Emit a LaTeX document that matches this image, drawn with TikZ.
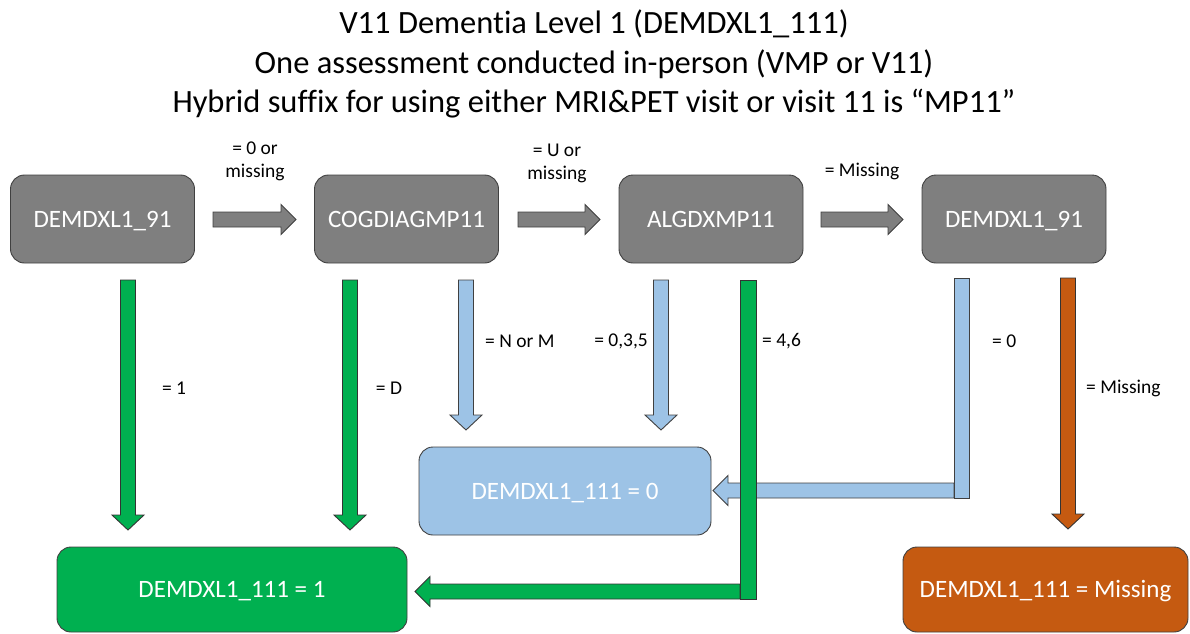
\documentclass[tikz,border=0pt]{standalone}
\usepackage{fontspec}
\setmainfont{Carlito}[Ligatures={NoCommon}]
\definecolor{boxgray}{HTML}{7F7F7F}
\definecolor{boxgreen}{HTML}{00B050}
\definecolor{boxblue}{HTML}{9DC3E6}
\definecolor{boxorange}{HTML}{C55A11}
\definecolor{edgecol}{HTML}{404040}
\newcommand{\harrowR}[4]{\draw[#4] (#1,#3-7.5) -- (#2-15,#3-7.5) -- (#2-15,#3-15) -- (#2,#3) -- (#2-15,#3+15) -- (#2-15,#3+7.5) -- (#1,#3+7.5) -- cycle;}
\newcommand{\harrowL}[4]{\draw[#4] (#1,#3-7.5) -- (#2+15,#3-7.5) -- (#2+15,#3-15) -- (#2,#3) -- (#2+15,#3+15) -- (#2+15,#3+7.5) -- (#1,#3+7.5) -- cycle;}
\newcommand{\varrowD}[4]{\draw[#4] (#1-7.5,#2) -- (#1+7.5,#2) -- (#1+7.5,#3-15) -- (#1+16,#3-15) -- (#1,#3) -- (#1-16,#3-15) -- (#1-7.5,#3-15) -- cycle;}
\begin{document}
\begin{tikzpicture}[x=1pt,y=-1pt,
  box/.style={draw=edgecol,line width=0.9pt,rounded corners=14pt,text=white,
    font=\fontsize{25}{29}\selectfont,inner sep=0pt,minimum height=88pt,
    text height=16pt,text depth=0pt},
  topbox/.style={box,fill=boxgray,minimum width=184pt},
  shape gray/.style={draw=edgecol,line width=0.9pt,fill=boxgray},
  shape green/.style={draw=black!80,line width=0.9pt,fill=boxgreen},
  shape blue/.style={draw=edgecol,line width=0.9pt,fill=boxblue},
  shape orange/.style={draw=black!80,line width=0.9pt,fill=boxorange},
  lbl/.style={font=\fontsize{19.5}{22.5}\selectfont,inner sep=0pt,align=center},
  title/.style={font=\fontsize{32.5}{39}\selectfont,inner sep=0pt,anchor=base}]
\useasboundingbox (0,0) rectangle (1190,633);

\node[title] (t1) at (594,33) {V11 Dementia Level 1 (DEMDXL1\_111)};
\node[title] (t2) at (594,73) {One assessment conducted in-person (VMP or V11)};
\node[title] (t3) at (594,112) {Hybrid suffix for using either MRI\&PET visit or visit 11 is “MP11”};

\node[topbox] (b1) at (102.5,219) {DEMDXL1\_91};
\node[topbox] (b2) at (406.5,219) {COGDIAGMP11};
\node[topbox] (b3) at (711,219) {ALGDXMP11};
\node[topbox] (b4) at (1014,219) {DEMDXL1\_91};

\node[box,fill=boxblue,minimum width=292pt] (r0) at (565,491) {DEMDXL1\_111 = 0};
\node[box,fill=boxgreen,minimum width=350pt,minimum height=85pt] (r1) at (232,589.5) {DEMDXL1\_111 = 1};
\node[box,fill=boxorange,minimum width=285pt,minimum height=85pt] (rm) at (1045.5,589.5) {DEMDXL1\_111 = Missing};

% horizontal arrows
\harrowR{213}{296}{219.5}{shape gray}
\harrowR{518}{600}{219.5}{shape gray}
\harrowR{821}{903}{219.5}{shape gray}
\node[lbl] (l1) at (255,161.5) {= 0 or\\missing};
\node[lbl] (l2) at (557,163.5) {= U or\\missing};
\node[lbl] (l3) at (862,171) {= Missing};

% vertical arrows
\varrowD{128}{280}{530}{shape green}
\varrowD{350}{280}{530}{shape green}
\varrowD{466}{280}{430}{shape blue}
\varrowD{661}{280}{430}{shape blue}
\varrowD{1068}{278}{529}{shape orange}

% blue elbow
\harrowL{954}{713}{490.5}{shape blue}
\draw[shape blue] (954,278) rectangle (969,498);
% green elbow
\harrowL{740}{415}{591.5}{shape green}
\draw[shape green] (740,280) rectangle (756,599);

\node[lbl] (e1) at (174,388) {= 1};
\node[lbl] (eD) at (389,388) {= D};
\node[lbl,anchor=west] (eN) at (485,341) {= N or M};
\node[lbl,anchor=east] (e0) at (648,341) {= 0,3,5};
\node[lbl,anchor=west] (e4) at (762,341) {= 4,6};
\node[lbl,anchor=west] (ez) at (992,341) {= 0};
\node[lbl,anchor=west] (em) at (1086,388) {= Missing};
\end{tikzpicture}
\end{document}
